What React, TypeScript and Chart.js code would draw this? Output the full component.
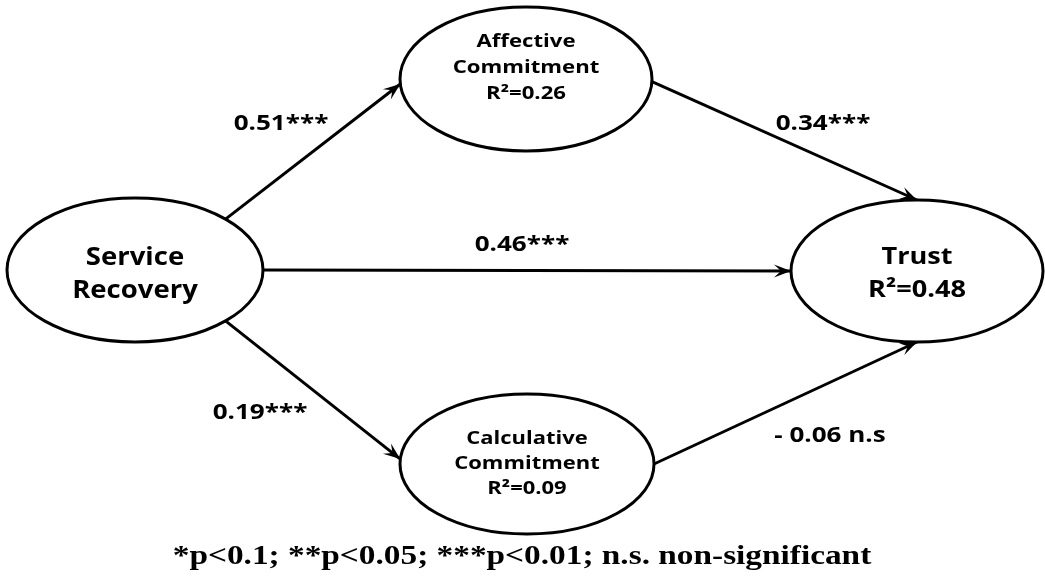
import React, { useEffect, useRef } from "react";
import { Chart, registerables } from "chart.js";

Chart.register(...registerables);

// ---- Diagram data (in a 1045 x 578 data space, y downward) ----
const nodeLines: string[][] = [
  ["Service", "Recovery"],
  ["Affective", "Commitment", "R²=0.26"],
  ["Trust", "R²=0.48"],
  ["Calculative", "Commitment", "R²=0.09"],
];
const nodeX = [135, 526, 917, 527];
const nodeY = [270, 79, 271, 464];
const nodeRX = [128, 126, 126, 127];
const nodeRY = [72, 72, 71, 70];

const edgeFrom = [0, 0, 0, 1, 3];
const edgeTo = [1, 2, 3, 2, 2];
const edgeFromAngle = [45, 0, -45, -2, 0];
const edgeToAngle = [184, 180, 176, 90, -90];
const edgeCoef = ["0.51***", "0.46***", "0.19***", "0.34***", "- 0.06 n.s"];
const edgeLabelX = [281, 522, 260, 823, 830];
const edgeLabelY = [124, 245, 413, 124, 436];

const footnote = "*p<0.1; **p<0.05; ***p<0.01; n.s. non-significant";
const footX = 522;
const footY = 557;

// ---- styles ----
const W = 1045;
const H = 578;
const nodeFontSize = [25, 18, 23, 18];
const nodeStretch = [1.1, 1.23, 1.18, 1.22];
const nodeLineGap = [33, 26, 33, 25];
const nodeTextDY = [4, -11, 3, 0];
const edgeFontSize = 21;
const edgeStretch = 1.24;
const footFontSize = 28;
const footStretch = 1.19;

function anchor(i: number, deg: number) {
  const a = (deg * Math.PI) / 180;
  return { x: nodeX[i] + nodeRX[i] * Math.cos(a), y: nodeY[i] - nodeRY[i] * Math.sin(a) };
}

function stretchedText(ctx: CanvasRenderingContext2D, t: string, x: number, y: number, sx: number) {
  ctx.save();
  ctx.translate(x, y);
  ctx.scale(sx, 1);
  ctx.fillText(t, 0, 0);
  ctx.restore();
}

const diagramPlugin = {
  id: "diagram",
  afterDatasetsDraw(chart: any) {
    const ctx = chart.ctx as CanvasRenderingContext2D;
    const xs = chart.scales.x;
    const ys = chart.scales.y;
    ctx.save();
    // arrowheads
    chart.data.datasets.forEach((ds: any, di: number) => {
      if (ds.kind !== "edge") return;
      const meta = chart.getDatasetMeta(di);
      const pts = meta.data;
      const p0 = pts[0];
      const p1 = pts[1];
      const ang = Math.atan2(p1.y - p0.y, p1.x - p0.x);
      const L = 17;
      const hw = 6.5;
      const notch = 10;
      ctx.save();
      ctx.translate(p1.x, p1.y);
      ctx.rotate(ang);
      ctx.beginPath();
      ctx.moveTo(0, 0);
      ctx.lineTo(-L, -hw);
      ctx.lineTo(-notch, 0);
      ctx.lineTo(-L, hw);
      ctx.closePath();
      ctx.fillStyle = "#000";
      ctx.fill();
      ctx.restore();
    });
    // nodes
    for (let i = 0; i < nodeX.length; i++) {
      const cx = xs.getPixelForValue(nodeX[i]);
      const cy = ys.getPixelForValue(nodeY[i]);
      const rx = Math.abs(xs.getPixelForValue(nodeX[i] + nodeRX[i]) - cx);
      const ry = Math.abs(ys.getPixelForValue(nodeY[i] + nodeRY[i]) - cy);
      ctx.beginPath();
      ctx.ellipse(cx, cy, rx, ry, 0, 0, Math.PI * 2);
      ctx.fillStyle = "#fff";
      ctx.fill();
      ctx.lineWidth = 3;
      ctx.strokeStyle = "#000";
      ctx.stroke();
      const lines = nodeLines[i];
      ctx.fillStyle = "#000";
      ctx.font = `bold ${nodeFontSize[i]}px "Open Sans"`;
      ctx.textAlign = "center";
      ctx.textBaseline = "middle";
      const gap = nodeLineGap[i];
      const start = cy + nodeTextDY[i] - ((lines.length - 1) * gap) / 2;
      lines.forEach((t, k) => stretchedText(ctx, t, cx, start + k * gap, nodeStretch[i]));
    }
    // edge labels
    ctx.font = `bold ${edgeFontSize}px "Open Sans"`;
    ctx.textAlign = "center";
    ctx.textBaseline = "middle";
    ctx.fillStyle = "#000";
    edgeCoef.forEach((t, k) => {
      stretchedText(ctx, t, xs.getPixelForValue(edgeLabelX[k]), ys.getPixelForValue(edgeLabelY[k]), edgeStretch);
    });
    // footnote
    ctx.font = `bold ${footFontSize}px "Liberation Serif"`;
    stretchedText(ctx, footnote, xs.getPixelForValue(footX), ys.getPixelForValue(footY), footStretch);
    ctx.restore();
  },
};

export default function App() {
  const ref = useRef<HTMLCanvasElement>(null);
  useEffect(() => {
    if (!ref.current) return;
    const edgeSets = edgeFrom.map((f, k) => {
      const a = anchor(f, edgeFromAngle[k]);
      const b = anchor(edgeTo[k], edgeToAngle[k]);
      return {
        kind: "edge",
        label: edgeCoef[k],
        data: [a, b],
        showLine: true,
        borderColor: "#000",
        borderWidth: 3,
        pointRadius: 0,
        fill: false,
      };
    });
    const chart = new Chart(ref.current, {
      type: "scatter",
      data: {
        datasets: [
          ...edgeSets,
          {
            kind: "node",
            label: "nodes",
            data: nodeX.map((x, i) => ({ x, y: nodeY[i] })),
            pointRadius: 0,
            showLine: false,
          } as any,
        ],
      },
      options: {
        animation: false,
        responsive: false,
        devicePixelRatio: 1,
        layout: { padding: 0 },
        plugins: { legend: { display: false }, tooltip: { enabled: false } },
        scales: {
          x: { type: "linear", min: 0, max: W, display: false },
          y: { type: "linear", min: 0, max: H, reverse: true, display: false },
        },
      },
      plugins: [diagramPlugin],
    } as any);
    return () => chart.destroy();
  }, []);
  return (
    <div style={{ position: "absolute", left: 0, top: 0, width: W, height: H, background: "#fff" }}>
      <canvas ref={ref} width={W} height={H} />
    </div>
  );
}
